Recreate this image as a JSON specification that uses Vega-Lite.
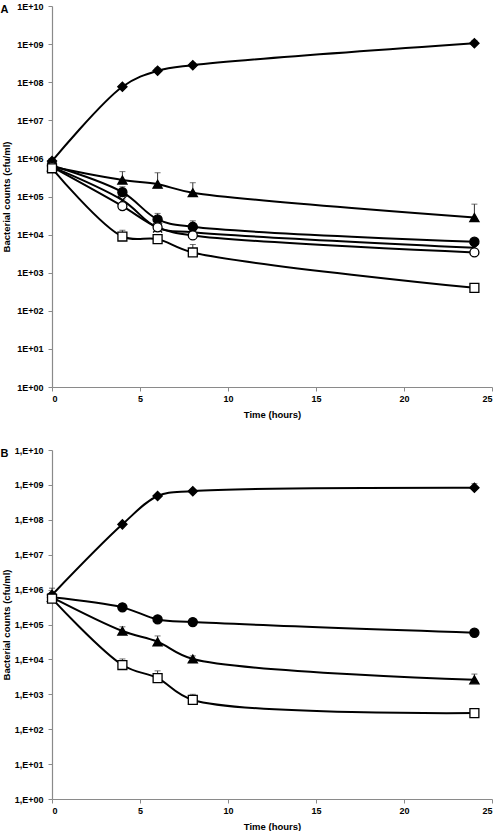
{
  "$schema": "https://vega.github.io/schema/vega-lite/v6.json",
  "padding": {"left": 0, "top": 2, "right": 0, "bottom": 0},
  "spacing": 63,
  "bounds": "flush",
  "background": "white",
  "config": {
    "view": {"stroke": null},
    "font": "Liberation Sans",
    "axis": {
      "grid": false,
      "domainColor": "#8a8a8a",
      "tickColor": "#8a8a8a",
      "domainWidth": 1.2,
      "tickSize": 4,
      "labelFont": "Liberation Sans",
      "labelFontWeight": "bold",
      "labelFontSize": 9,
      "labelColor": "black",
      "titleFont": "Liberation Sans",
      "titleFontWeight": "bold",
      "titleFontSize": 9.5,
      "titleColor": "black"
    }
  },
  "datasets": {
    "counts": [
      {"p": "A", "s": "diamond", "t": 0, "v": 850000, "hi": 950000},
      {"p": "A", "s": "diamond", "t": 4, "v": 76000000, "hi": null},
      {"p": "A", "s": "diamond", "t": 6, "v": 200000000, "hi": 235000000},
      {"p": "A", "s": "diamond", "t": 8, "v": 280000000, "hi": 320000000},
      {"p": "A", "s": "diamond", "t": 24, "v": 1050000000, "hi": 1250000000},
      {"p": "A", "s": "triangle", "t": 0, "v": 600000, "hi": null},
      {"p": "A", "s": "triangle", "t": 4, "v": 270000, "hi": 450000},
      {"p": "A", "s": "triangle", "t": 6, "v": 210000, "hi": 420000},
      {"p": "A", "s": "triangle", "t": 8, "v": 126000, "hi": 230000},
      {"p": "A", "s": "triangle", "t": 24, "v": 28000, "hi": 63000},
      {"p": "A", "s": "fcircle", "t": 0, "v": 650000, "hi": null},
      {"p": "A", "s": "fcircle", "t": 4, "v": 130000, "hi": 180000},
      {"p": "A", "s": "fcircle", "t": 6, "v": 25000, "hi": 36000},
      {"p": "A", "s": "fcircle", "t": 8, "v": 16000, "hi": 23000},
      {"p": "A", "s": "fcircle", "t": 24, "v": 6500, "hi": null},
      {"p": "A", "s": "cross", "t": 0, "v": 600000, "hi": null},
      {"p": "A", "s": "cross", "t": 4, "v": 80000, "hi": null},
      {"p": "A", "s": "cross", "t": 6, "v": 15000, "hi": null},
      {"p": "A", "s": "cross", "t": 8, "v": 11500, "hi": null},
      {"p": "A", "s": "cross", "t": 24, "v": 4500, "hi": null},
      {"p": "A", "s": "ocircle", "t": 0, "v": 600000, "hi": null},
      {"p": "A", "s": "ocircle", "t": 4, "v": 56000, "hi": 85000},
      {"p": "A", "s": "ocircle", "t": 6, "v": 15500, "hi": 22000},
      {"p": "A", "s": "ocircle", "t": 8, "v": 9500, "hi": 14000},
      {"p": "A", "s": "ocircle", "t": 24, "v": 3400, "hi": null},
      {"p": "A", "s": "square", "t": 0, "v": 550000, "hi": null},
      {"p": "A", "s": "square", "t": 4, "v": 8900, "hi": 13000},
      {"p": "A", "s": "square", "t": 6, "v": 7600, "hi": 9000},
      {"p": "A", "s": "square", "t": 8, "v": 3400, "hi": 5500},
      {"p": "A", "s": "square", "t": 24, "v": 400, "hi": null},
      {"p": "B", "s": "diamond", "t": 0, "v": 700000, "hi": 1100000},
      {"p": "B", "s": "diamond", "t": 4, "v": 74000000, "hi": null},
      {"p": "B", "s": "diamond", "t": 6, "v": 480000000, "hi": null},
      {"p": "B", "s": "diamond", "t": 8, "v": 660000000, "hi": null},
      {"p": "B", "s": "diamond", "t": 24, "v": 830000000, "hi": 1080000000},
      {"p": "B", "s": "fcircle", "t": 0, "v": 600000, "hi": null},
      {"p": "B", "s": "fcircle", "t": 4, "v": 310000, "hi": 400000},
      {"p": "B", "s": "fcircle", "t": 6, "v": 140000, "hi": null},
      {"p": "B", "s": "fcircle", "t": 8, "v": 117000, "hi": null},
      {"p": "B", "s": "fcircle", "t": 24, "v": 58000, "hi": null},
      {"p": "B", "s": "triangle", "t": 0, "v": 600000, "hi": null},
      {"p": "B", "s": "triangle", "t": 4, "v": 65000, "hi": 86000},
      {"p": "B", "s": "triangle", "t": 6, "v": 32000, "hi": 47000},
      {"p": "B", "s": "triangle", "t": 8, "v": 10300, "hi": 12600},
      {"p": "B", "s": "triangle", "t": 24, "v": 2600, "hi": 3800},
      {"p": "B", "s": "square", "t": 0, "v": 550000, "hi": null},
      {"p": "B", "s": "square", "t": 4, "v": 6900, "hi": 10300},
      {"p": "B", "s": "square", "t": 6, "v": 2900, "hi": 4700},
      {"p": "B", "s": "square", "t": 8, "v": 690, "hi": 1000},
      {"p": "B", "s": "square", "t": 24, "v": 290, "hi": null}
    ]
  },
  "vconcat": [
    {
      "width": 440,
      "height": 381,
      "data": {"name": "counts"},
      "transform": [{"filter": "datum.p === 'A'"}],
      "resolve": {"axis": {"x": "independent"}},
      "layer": [
        {
          "mark": {"type": "line", "interpolate": "catmull-rom", "color": "black"},
          "encoding": {
            "x": {"field": "t", "type": "quantitative", "scale": {"domain": [0, 25], "nice": false, "zero": false},
                  "axis": {"values": [0, 5, 10, 15, 20, 25], "title": "Time (hours)", "titlePadding": 6, "labelPadding": 3}},
            "y": {"field": "v", "type": "quantitative",
                  "scale": {"type": "log", "domain": [1, 10000000000], "nice": false},
                  "axis": {"values": [1, 10, 100, 1000, 10000, 100000, 1000000, 10000000, 100000000, 1000000000, 10000000000],
                           "labelExpr": "'1E+' + (datum.value >= 1e10 ? '' : '0') + round(log(datum.value)/LN10)",
                           "title": "Bacterial counts (cfu/ml)", "titlePadding": 5, "labelPadding": 5}},
            "detail": {"field": "s"},
            "strokeWidth": {"field": "s", "type": "nominal", "legend": null,
                            "scale": {"domain": ["diamond", "triangle", "fcircle", "cross", "ocircle", "square"], "range": [2, 2, 2, 1.3, 1.3, 2]}}
          }
        },
        {
          "transform": [{"filter": "isValid(datum.hi)"}],
          "mark": {"type": "rule", "color": "#333", "strokeWidth": 1},
          "encoding": {"x": {"field": "t", "type": "quantitative", "axis": null}, "y": {"field": "v", "type": "quantitative"}, "y2": {"field": "hi"}}
        },
        {
          "transform": [{"filter": "isValid(datum.hi)"}],
          "mark": {"type": "tick", "orient": "horizontal", "color": "#333", "size": 6, "thickness": 1},
          "encoding": {"x": {"field": "t", "type": "quantitative", "axis": null}, "y": {"field": "hi", "type": "quantitative"}}
        },
        {
          "mark": {"type": "point", "filled": false, "opacity": 1, "stroke": "black", "strokeWidth": 1.3},
          "encoding": {
            "x": {"field": "t", "type": "quantitative",
                  "axis": {"orient": "top", "domain": false, "ticks": false, "labels": false, "title": "A",
                           "titleX": -52, "titleY": 6, "titleAlign": "left", "titleBaseline": "alphabetic", "titleAngle": 0,
                           "titleFontSize": 11, "titlePadding": 0}},
            "y": {"field": "v", "type": "quantitative"},
            "shape": {"field": "s", "type": "nominal", "legend": null,
                      "scale": {"domain": ["diamond", "triangle", "fcircle", "cross", "ocircle", "square"],
                                "range": ["diamond", "triangle-up", "circle", "M-1,-1L1,1M-1,1L1,-1", "circle", "square"]}},
            "fill": {"field": "s", "type": "nominal", "legend": null,
                     "scale": {"domain": ["diamond", "triangle", "fcircle", "cross", "ocircle", "square"],
                               "range": ["black", "black", "black", "white", "white", "white"]}},
            "size": {"field": "s", "type": "nominal", "legend": null,
                     "scale": {"domain": ["diamond", "triangle", "fcircle", "cross", "ocircle", "square"], "range": [85, 80, 65, 40, 70, 55]}}
          }
        }
      ]
    },
    {
      "width": 440,
      "height": 349,
      "data": {"name": "counts"},
      "transform": [{"filter": "datum.p === 'B'"}],
      "resolve": {"axis": {"x": "independent"}},
      "layer": [
        {
          "mark": {"type": "line", "interpolate": "catmull-rom", "color": "black", "strokeWidth": 2},
          "encoding": {
            "x": {"field": "t", "type": "quantitative", "scale": {"domain": [0, 25], "nice": false, "zero": false},
                  "axis": {"values": [0, 5, 10, 15, 20, 25], "title": "Time (hours)", "titlePadding": 6, "labelPadding": 3}},
            "y": {"field": "v", "type": "quantitative",
                  "scale": {"type": "log", "domain": [1, 10000000000], "nice": false},
                  "axis": {"values": [1, 10, 100, 1000, 10000, 100000, 1000000, 10000000, 100000000, 1000000000, 10000000000],
                           "labelExpr": "'1,E+' + (datum.value >= 1e10 ? '' : '0') + round(log(datum.value)/LN10)",
                           "title": "Bacterial counts (cfu/ml)", "titlePadding": 3, "labelPadding": 5}},
            "detail": {"field": "s"}
          }
        },
        {
          "transform": [{"filter": "isValid(datum.hi)"}],
          "mark": {"type": "rule", "color": "#333", "strokeWidth": 1},
          "encoding": {"x": {"field": "t", "type": "quantitative", "axis": null}, "y": {"field": "v", "type": "quantitative"}, "y2": {"field": "hi"}}
        },
        {
          "transform": [{"filter": "isValid(datum.hi)"}],
          "mark": {"type": "tick", "orient": "horizontal", "color": "#333", "size": 6, "thickness": 1},
          "encoding": {"x": {"field": "t", "type": "quantitative", "axis": null}, "y": {"field": "hi", "type": "quantitative"}}
        },
        {
          "mark": {"type": "point", "filled": false, "opacity": 1, "stroke": "black", "strokeWidth": 1.3},
          "encoding": {
            "x": {"field": "t", "type": "quantitative",
                  "axis": {"orient": "top", "domain": false, "ticks": false, "labels": false, "title": "B",
                           "titleX": -52, "titleY": 6, "titleAlign": "left", "titleBaseline": "alphabetic", "titleAngle": 0,
                           "titleFontSize": 11, "titlePadding": 0}},
            "y": {"field": "v", "type": "quantitative"},
            "shape": {"field": "s", "type": "nominal", "legend": null,
                      "scale": {"domain": ["diamond", "triangle", "fcircle", "cross", "ocircle", "square"],
                                "range": ["diamond", "triangle-up", "circle", "M-1,-1L1,1M-1,1L1,-1", "circle", "square"]}},
            "fill": {"field": "s", "type": "nominal", "legend": null,
                     "scale": {"domain": ["diamond", "triangle", "fcircle", "cross", "ocircle", "square"],
                               "range": ["black", "black", "black", "white", "white", "white"]}},
            "size": {"field": "s", "type": "nominal", "legend": null,
                     "scale": {"domain": ["diamond", "triangle", "fcircle", "cross", "ocircle", "square"], "range": [85, 80, 65, 40, 70, 55]}}
          }
        }
      ]
    }
  ]
}
